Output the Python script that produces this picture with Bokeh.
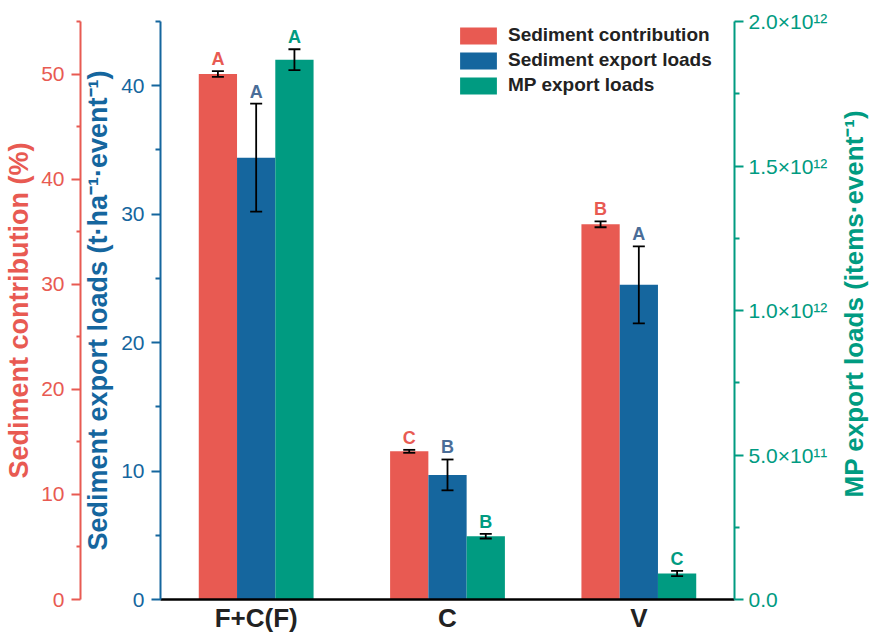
import math
from bokeh.plotting import figure
from bokeh.layouts import row
from bokeh.models import (Range1d, LinearAxis, FixedTicker, ColumnDataSource,
                          Legend, LegendItem, CustomJSTickFormatter, FactorRange)
from bokeh.transform import dodge
from bokeh.core.properties import value
from bokeh.embed import file_html
from bokeh.resources import INLINE

# ---------------- data ----------------
categories = ["F+C(F)", "C", "V"]
sed_contrib = [50.0, 14.1, 35.7]
sed_contrib_err = [0.27, 0.14, 0.28]
sed_contrib_letters = ["A", "C", "B"]
sed_export = [34.4, 9.7, 24.5]
sed_export_err = [4.2, 1.2, 3.0]
sed_export_letters = ["A", "B", "A"]
mp_export = [1.868e12, 0.219e12, 0.090e12]
mp_export_err = [0.036e12, 0.008e12, 0.009e12]
mp_export_letters = ["A", "B", "C"]
series_names = ["Sediment contribution", "Sediment export loads", "MP export loads"]
green_axis_title = ["MP export loads (items·event⁻¹)"]

RED = "#E85A52"
BLUE = "#15669E"
GREEN = "#009B81"
BLUE_TXT = "#4A6D98"
FONT = "Liberation Sans"

MAIN_W = 834
TITLE_W = 869 - MAIN_W
H = 635

p = figure(x_range=FactorRange(*categories, range_padding=0), y_range=Range1d(0, 45),
           width=MAIN_W, height=H, output_backend="svg", toolbar_location=None,
           min_border_left=160, min_border_right=MAIN_W - 734, min_border_top=21,
           min_border_bottom=35)
p.x_range.range_padding = 0
p.outline_line_color = None
p.xgrid.visible = False
p.ygrid.visible = False
p.background_fill_color = "white"
p.border_fill_color = "white"

p.extra_y_ranges = {"red": Range1d(0, 55), "green": Range1d(0, 2e12)}

def style_axis(ax, color, label):
    ax.axis_line_color = color
    ax.axis_line_width = 2
    ax.major_tick_line_color = color
    ax.major_tick_line_width = 2
    ax.minor_tick_line_color = color
    ax.minor_tick_line_width = 2
    ax.major_tick_out = 9
    ax.major_tick_in = 0
    ax.minor_tick_out = 5
    ax.minor_tick_in = 0
    ax.major_label_text_color = color
    ax.major_label_text_font = FONT
    ax.major_label_text_font_size = "21px"
    ax.axis_label = label
    ax.axis_label_text_color = color
    ax.axis_label_text_font = FONT
    ax.axis_label_text_font_style = "bold"
    ax.axis_label_text_font_size = "27px"

# blue (primary, nearest the frame)
yb = p.yaxis[0]
style_axis(yb, BLUE, "Sediment export loads (t·ha⁻¹·event⁻¹)")
yb.ticker = FixedTicker(ticks=[0, 10, 20, 30, 40], minor_ticks=[5, 15, 25, 35, 45])
yb.major_label_standoff = 7
yb.axis_label_standoff = 5

# red (outer left)
yr = LinearAxis(y_range_name="red")
style_axis(yr, RED, "Sediment contribution (%)")
yr.minor_tick_out = 4
yr.ticker = FixedTicker(ticks=[0, 10, 20, 30, 40, 50], minor_ticks=[5, 15, 25, 35, 45, 55])
yr.major_label_standoff = 7
yr.axis_label_standoff = 4
p.add_layout(yr, "left")

# green (right)
yg = LinearAxis(y_range_name="green")
style_axis(yg, GREEN, None)
yg.ticker = FixedTicker(ticks=[0, 5e11, 1e12, 1.5e12, 2e12],
                        minor_ticks=[2.5e11, 7.5e11, 1.25e12, 1.75e12])
yg.formatter = CustomJSTickFormatter(code="""
    if (tick == 0) { return "0.0"; }
    const e = Math.floor(Math.log10(tick) + 1e-9);
    const m = tick / Math.pow(10, e);
    const sup = {"0":"\u2070","1":"\u00b9","2":"\u00b2","3":"\u00b3","4":"\u2074",
                 "5":"\u2075","6":"\u2076","7":"\u2077","8":"\u2078","9":"\u2079"};
    return m.toFixed(1) + "\u00d710" + String(e).split("").map(c => sup[c]).join("");
""")
yg.major_label_standoff = 5
p.add_layout(yg, "right")

# x axis
xa = p.xaxis[0]
xa.axis_line_color = "black"
xa.axis_line_width = 2.5
xa.major_tick_line_color = None
xa.minor_tick_line_color = None
xa.major_tick_out = 0
xa.major_tick_in = 0
xa.minor_tick_out = 0
xa.minor_tick_in = 0
xa.major_label_text_font = FONT
xa.major_label_text_font_style = "bold"
xa.major_label_text_font_size = "26px"
xa.major_label_text_color = "#222222"
xa.major_label_standoff = 3

# ---------------- glyphs ----------------
series = [
    (sed_contrib, sed_contrib_err, sed_contrib_letters, -0.2, RED, RED, "red"),
    (sed_export, sed_export_err, sed_export_letters, 0.0, BLUE, BLUE_TXT, "default"),
    (mp_export, mp_export_err, mp_export_letters, 0.2, GREEN, GREEN, "green"),
]
renderers = []
for vals, errs, letters, off, col, tcol, rng in series:
    src = ColumnDataSource(dict(
        x=categories, top=vals,
        upper=[v + e for v, e in zip(vals, errs)],
        lower=[v - e for v, e in zip(vals, errs)],
        lab=letters))
    kw = {} if rng == "default" else {"y_range_name": rng}
    xs = dodge("x", off, range=p.x_range)
    r = p.vbar(x=xs, top="top", width=0.2, source=src, fill_color=col,
               line_color=None, **kw)
    renderers.append(r)
    p.segment(x0=xs, x1=xs, y0="lower", y1="upper", source=src,
              line_color="black", line_width=1.8, **kw)
    p.scatter(x=xs, y="upper", marker="dash", size=12, line_color="black",
              line_width=1.8, source=src, **kw)
    p.scatter(x=xs, y="lower", marker="dash", size=12, line_color="black",
              line_width=1.8, source=src, **kw)
    p.text(x=xs, y="upper", text="lab", source=src, text_color=tcol,
           text_font=value(FONT), text_font_style="bold", text_font_size="18px",
           text_align="center", text_baseline="bottom", y_offset=-2, **kw)

legend = Legend(items=[LegendItem(label=n, renderers=[r]) for n, r in zip(series_names, renderers)],
                location=(295, 503))
legend.glyph_width = 46
legend.glyph_height = 21
legend.label_height = 21
legend.spacing = 3
legend.padding = 0
legend.margin = 0
legend.label_standoff = 7
legend.border_line_alpha = 0
legend.background_fill_alpha = 0
legend.label_text_font = FONT
legend.label_text_font_style = "bold"
legend.label_text_font_size = "19px"
legend.label_text_color = "#222222"
p.add_layout(legend)

# ---------- right-hand title panel (reads bottom-to-top) ----------
t = figure(width=TITLE_W, height=H, x_range=Range1d(0, TITLE_W), y_range=Range1d(0, H),
           output_backend="svg", toolbar_location=None,
           min_border_left=0, min_border_right=0, min_border_top=0, min_border_bottom=0)
t.axis.visible = False
t.grid.visible = False
t.outline_line_color = None
t.background_fill_color = "white"
t.border_fill_color = "white"
t.text(x=[TITLE_W - 16], y=[H - 310], text=green_axis_title, angle=math.pi / 2,
       text_color=GREEN, text_font=value(FONT), text_font_style="bold",
       text_font_size="26px", text_align="center", text_baseline="middle")

layout = row(p, t, spacing=0)
open("out.html", "w").write(file_html(layout, INLINE))
